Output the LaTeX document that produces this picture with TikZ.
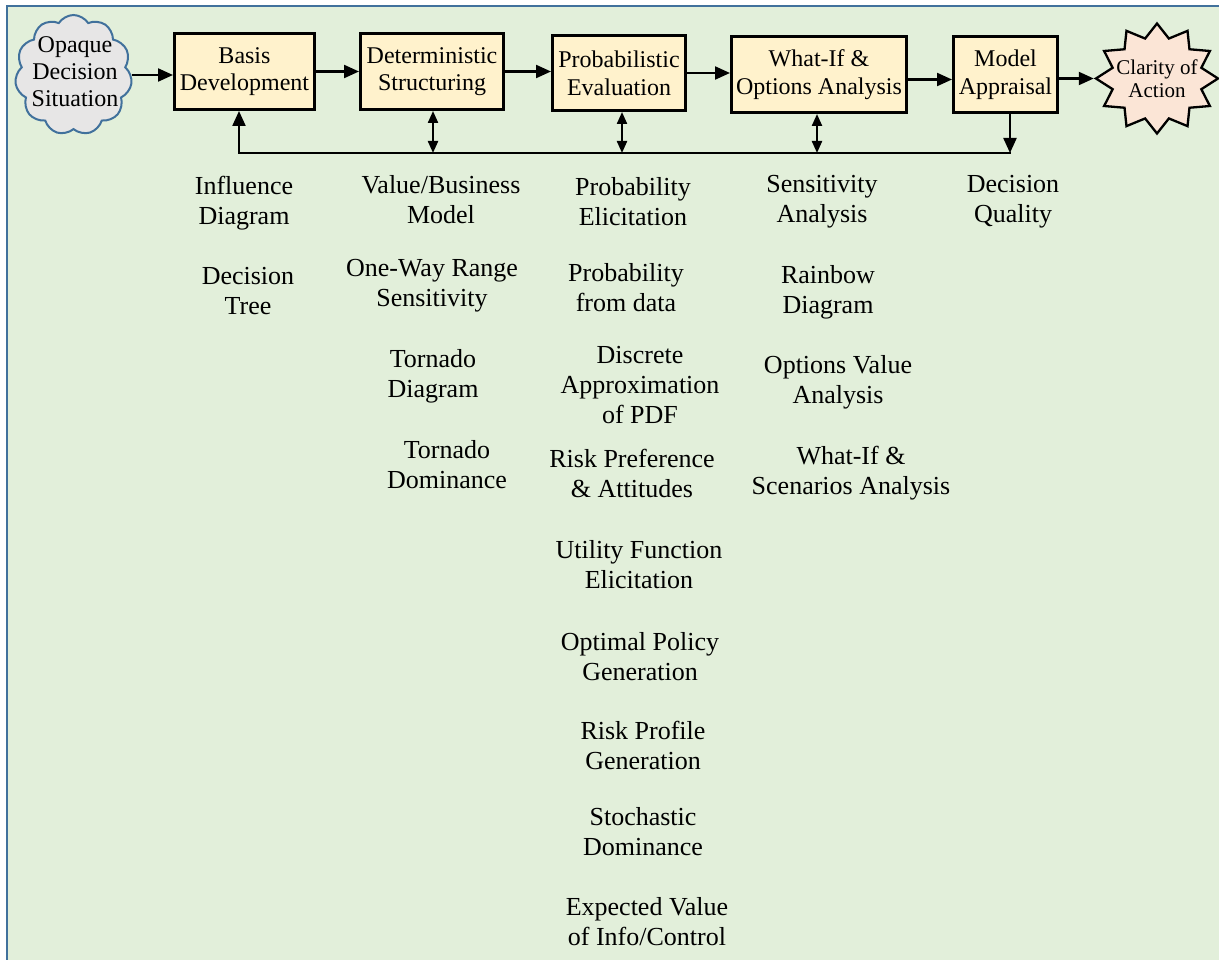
\documentclass[tikz,border=0pt]{standalone}
\usepackage{fontspec}
\setmainfont{Liberation Serif}
\usetikzlibrary{shapes.symbols,shapes.geometric,arrows.meta,calc}
\definecolor{bg}{RGB}{226,239,218}
\definecolor{frameblue}{RGB}{65,113,156}
\definecolor{boxfill}{RGB}{255,242,204}
\definecolor{cloudfill}{RGB}{231,230,230}
\definecolor{starfill}{RGB}{251,229,214}
\begin{document}
\begin{tikzpicture}[x=1pt,y=-1pt,
  stage/.style={draw=black, line width=3pt, fill=boxfill, align=center, inner sep=0pt, font=\rmfamily\fontsize{24}{27.6}\selectfont},
  item/.style={align=center, anchor=north, inner sep=0pt, font=\rmfamily\fontsize{26}{30}\selectfont},
  arr/.style={line width=2.2pt, -{Triangle[length=15pt,width=13pt]}},
  darr/.style={line width=2.2pt, {Triangle[length=12pt,width=10pt]}-{Triangle[length=12pt,width=10pt]}},
  bus/.style={line width=2.2pt, line cap=rect}]
\clip (0,0) rectangle (1219,960);
\draw[frameblue, line width=2pt, fill=bg] (6.5,6.5) rectangle (1240,980);

% cloud
\node[cloud, cloud puffs=11, cloud puff arc=115, aspect=1, draw=frameblue, line width=2pt, fill=cloudfill,
      minimum width=117pt, minimum height=120pt, inner sep=0pt] (cl) at (73.5,75) {};
\node[align=center, anchor=north, inner sep=0pt, font=\rmfamily\fontsize{24}{27}\selectfont] (cltext) at (75,36.5) {Opaque\\Decision\\Situation};

% stages
\node[stage, minimum width=140pt, minimum height=76pt] (b1) at (244.5,71.5) {Basis\\Development};
\node[stage, minimum width=143pt, minimum height=76pt] (b2) at (432,71.5) {Deterministic\\Structuring};
\node[stage, minimum width=133pt, minimum height=75pt] (b3) at (619,73) {Probabilistic\\Evaluation};
\node[stage, minimum width=175pt, minimum height=76pt] (b4) at (819,74.5) {What-If \&\\Options Analysis};
\node[stage, minimum width=104pt, minimum height=76pt] (b5) at (1005.5,74.5) {Model\\Appraisal};

% star
\node[star, star points=12, star point ratio=1.33, draw=black, line width=2.3pt, fill=starfill,
      minimum size=110pt, inner sep=0pt, xscale=1.11] (st) at (1157,78.5) {};
\node[align=center, anchor=north, inner sep=0pt, font=\rmfamily\fontsize{21}{23.5}\selectfont] (sttext) at (1157,59.5) {Clarity of\\Action};

% main flow arrows
\draw[arr] (cl.east) -- (cl.east -| b1.west);
\draw[arr] (b1.east) -- (b1.east -| b2.west);
\draw[arr] (b2.east) -- (b2.east -| b3.west);
\draw[arr] (b3.east) -- (b3.east -| b4.west);
\draw[arr] ($(b4.east)+(0,5)$) -- ($(b4.east -| b5.west)+(0,5)$);
\draw[arr] ($(b5.east)+(0,4)$) -- ($(b5.east -| st.west)+(0,4)$);

% feedback bus
\coordinate (busL) at (239,153);
\coordinate (busR) at (1010,153);
\coordinate (j2) at (433,153);
\coordinate (j3) at (622,153);
\coordinate (j4) at (817,153);
\draw[bus] (busL) -- (busR);
\draw[arr] (busL) -- (busL |- b1.south);
\draw[darr] (j2) -- (j2 |- b2.south);
\draw[darr] (j3) -- (j3 |- b3.south);
\draw[darr] (j4) -- (j4 |- b4.south);
\draw[arr] (busR |- b5.south) -- (busR);

% column 1
\node[item] (t11) at (244,175.5) {Influence\\Diagram};
\node[item] (t12) at (248,267.5) {Decision\\Tree};
% column 2
\node[item] (t21) at (441,175.5) {Value/Business\\Model};
\node[item] (t22) at (432,259.5) {One-Way Range\\Sensitivity};
\node[item] (t23) at (433,349.5) {Tornado\\Diagram};
\node[item] (t24) at (447,440.5) {Tornado\\Dominance};
% column 3
\node[item] (t31) at (633,177.5) {Probability\\Elicitation};
\node[item] (t32) at (626,263.5) {Probability\\from data};
\node[item] (t33) at (640,346.5) {Discrete\\Approximation\\of PDF};
\node[item] (t34) at (632,448.5) {Risk Preference\\\& Attitudes};
\node[item] (t35) at (639,540.5) {Utility Function\\Elicitation};
\node[item] (t36) at (640,632.5) {Optimal Policy\\Generation};
\node[item] (t37) at (643,720.5) {Risk Profile\\Generation};
\node[item] (t38) at (643,807.5) {Stochastic\\Dominance};
\node[item] (t39) at (647,897.5) {Expected Value\\of Info/Control};
% column 4
\node[item] (t41) at (822,175.5) {Sensitivity\\Analysis};
\node[item] (t42) at (828,265.5) {Rainbow\\Diagram};
\node[item] (t43) at (838,355.5) {Options Value\\Analysis};
\node[item] (t44) at (851,445.5) {What-If \&\\Scenarios Analysis};
% column 5
\node[item] (t51) at (1013,175.5) {Decision\\Quality};
\end{tikzpicture}
\end{document}
